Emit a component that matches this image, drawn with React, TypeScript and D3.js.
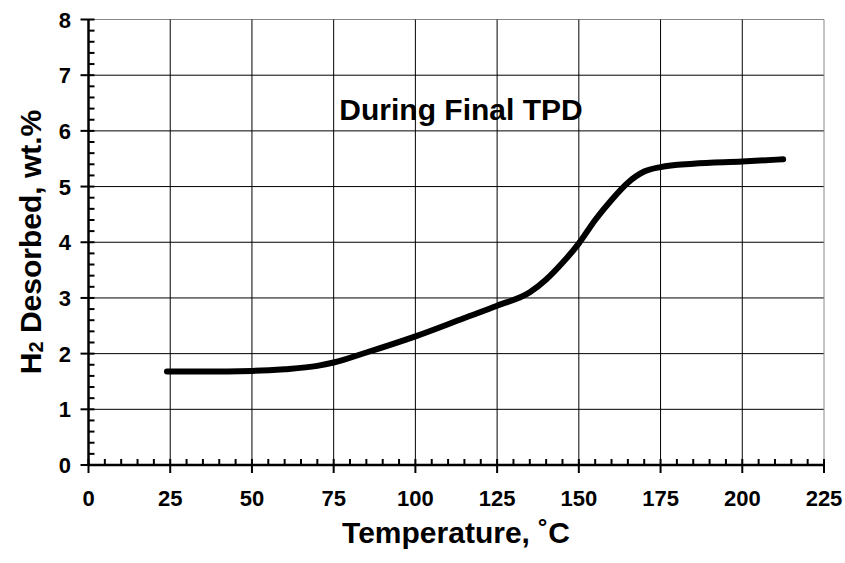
import React from "react";
import * as d3 from "d3";

const temps = [24, 35, 50, 60, 70, 75, 85, 100, 115, 125, 135, 140, 145, 150, 155, 160, 165, 170, 175, 185, 200, 212.5];
const desorbed = [1.68, 1.68, 1.69, 1.72, 1.78, 1.84, 2.02, 2.31, 2.64, 2.86, 3.1, 3.33, 3.63, 3.98, 4.4, 4.76, 5.07, 5.27, 5.35, 5.41, 5.45, 5.49];
const xTicks = [0, 25, 50, 75, 100, 125, 150, 175, 200, 225];
const yTicks = [0, 1, 2, 3, 4, 5, 6, 7, 8];

export default function App() {
  const W = 845, H = 563;
  const x = d3.scaleLinear().domain([0, 225]).range([88.5, 824]);
  const y = d3.scaleLinear().domain([0, 8]).range([465, 19.5]);
  const line = d3.line<number>().x((_, i) => x(temps[i])).y((d) => y(d)).curve(d3.curveMonotoneX);
  const xMinor = d3.range(0, 225.01, 5).filter((v) => v % 25 !== 0);
  const yMinor = d3.range(0, 8.001, 0.2).filter((v) => Math.abs(v - Math.round(v)) > 0.01);
  const font = "Arial, 'Liberation Sans', sans-serif";
  return (
    <svg width={W} height={H} style={{ position: "absolute", left: 0, top: 0 }} fontFamily={font}>
      <rect x={0} y={0} width={W} height={H} fill="#fff" />
      {yTicks.slice(1).map((t) => (
        <line key={"gy" + t} x1={x(0)} x2={x(225)} y1={y(t)} y2={y(t)} stroke={t === 8 ? "#888" : "#000"} strokeWidth={1} />
      ))}
      {xTicks.slice(1).map((t) => (
        <line key={"gx" + t} x1={x(t)} x2={x(t)} y1={y(0)} y2={y(8)} stroke={t === 225 ? "#888" : "#000"} strokeWidth={1} />
      ))}
      {xMinor.map((t) => (
        <line key={"mx" + t} x1={x(t)} x2={x(t)} y1={y(0)} y2={y(0) - 6} stroke="#000" strokeWidth={2} />
      ))}
      {xTicks.map((t) => (
        <line key={"Mx" + t} x1={x(t)} x2={x(t)} y1={y(0) - 6} y2={y(0) + 8} stroke="#000" strokeWidth={2} />
      ))}
      {yMinor.map((t) => (
        <line key={"my" + t} x1={x(0)} x2={x(0) + 6} y1={y(t)} y2={y(t)} stroke="#000" strokeWidth={2} />
      ))}
      {yTicks.map((t) => (
        <line key={"My" + t} x1={x(0) - 8} x2={x(0) + 6} y1={y(t)} y2={y(t)} stroke="#000" strokeWidth={2} />
      ))}
      <line x1={x(0)} x2={x(0)} y1={y(0) + 1} y2={y(8)} stroke="#000" strokeWidth={2.5} />
      <line x1={x(0)} x2={x(225)} y1={y(0)} y2={y(0)} stroke="#000" strokeWidth={2.5} />
      {xTicks.map((t) => (
        <text key={"tx" + t} x={x(t)} y={y(0) + 41} textAnchor="middle" fontSize={22} fontWeight="bold">{t}</text>
      ))}
      {yTicks.map((t) => (
        <text key={"ty" + t} x={71} y={y(t) + 8} textAnchor="end" fontSize={22} fontWeight="bold">{t}</text>
      ))}
      <path d={line(desorbed) || ""} fill="none" stroke="#000" strokeWidth={6} strokeLinecap="round" strokeLinejoin="round" />
      <text x={461} y={120} textAnchor="middle" fontSize={30} fontWeight="bold">During Final TPD</text>
      <text x={456} y={543} textAnchor="middle" fontSize={30} fontWeight="bold">Temperature, ˚C</text>
      <text transform={`translate(41,242) rotate(-90)`} textAnchor="middle" fontSize={30} fontWeight="bold">
        H<tspan fontSize={20} dy={2}>2</tspan><tspan dy={-2}> Desorbed, wt.%</tspan>
      </text>
    </svg>
  );
}
